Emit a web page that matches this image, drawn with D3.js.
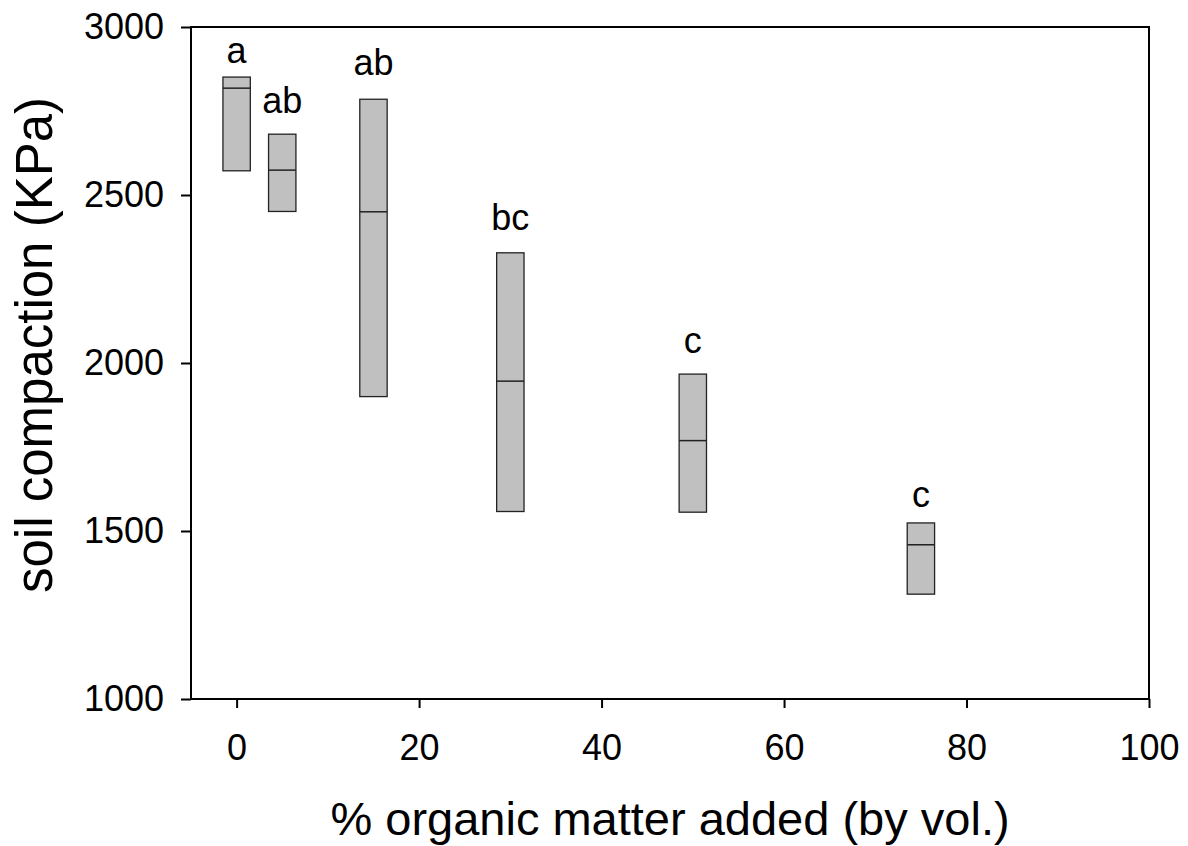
<!DOCTYPE html>
<html>
<head>
<meta charset="utf-8">
<script src="https://cdn.jsdelivr.net/npm/d3@7"></script>
<style>
  html, body { margin: 0; padding: 0; background: #fff; }
  svg { display: block; }
  text { font-family: "Liberation Sans", Arial, sans-serif; fill: #000; }
</style>
</head>
<body>
<svg id="chart" width="1188" height="846"></svg>
<script>
// ---- data ----
const omAdded   = [0, 5, 15, 30, 50, 75];           // % organic matter (x)
const boxTop    = [2851, 2681, 2785, 2328, 1967, 1524];
const boxMedian = [2818, 2574, 2450, 1946, 1769, 1459];
const boxBottom = [2572, 2451, 1900, 1558, 1556, 1312];
const letters   = ["a", "ab", "ab", "bc", "c", "c"];
const letterAt  = [2893, 2744, 2857, 2396, 2030, 1571]; // label baseline, data units
const xTicks    = [0, 20, 40, 60, 80, 100];
const yTicks    = [1000, 1500, 2000, 2500, 3000];
const boxWidth  = 3;  // in x units
const xTitle = "% organic matter added (by vol.)";
const yTitle = "soil compaction (KPa)";

// ---- layout ----
const margin = { left: 191, top: 27, right: 1188 - 1149, bottom: 846 - 699 };
const W = 1188 - margin.left - margin.right;
const H = 846 - margin.top - margin.bottom;

const svg = d3.select("#chart");
const g = svg.append("g").attr("transform", `translate(${margin.left},${margin.top})`);

const x = d3.scaleLinear().domain([-5, 100]).range([0, W]);
const y = d3.scaleLinear().domain([1000, 3000]).range([H, 0]);

const data = omAdded.map((v, i) => ({
  x: v, top: boxTop[i], med: boxMedian[i], bot: boxBottom[i],
  label: letters[i], ly: letterAt[i]
}));

// boxes
const bw = x(boxWidth) - x(0);
g.selectAll("rect.box").data(data).join("rect")
  .attr("class", "box")
  .attr("x", d => x(d.x) - bw / 2)
  .attr("y", d => y(d.top))
  .attr("width", bw)
  .attr("height", d => y(d.bot) - y(d.top))
  .attr("fill", "#c0c0c0")
  .attr("stroke", "#222")
  .attr("stroke-width", 1.3);

g.selectAll("line.med").data(data).join("line")
  .attr("class", "med")
  .attr("x1", d => x(d.x) - bw / 2)
  .attr("x2", d => x(d.x) + bw / 2)
  .attr("y1", d => y(d.med))
  .attr("y2", d => y(d.med))
  .attr("stroke", "#222")
  .attr("stroke-width", 1.5);

g.selectAll("text.letter").data(data).join("text")
  .attr("class", "letter")
  .attr("x", d => x(d.x))
  .attr("y", d => y(d.ly))
  .attr("text-anchor", "middle")
  .style("font-size", "36px")
  .text(d => d.label);

// axes
const xAxis = d3.axisBottom(x).tickValues(xTicks).tickFormat(d3.format("d"))
  .tickSize(9).tickPadding(26).tickSizeOuter(0);
const yAxis = d3.axisLeft(y).tickValues(yTicks).tickFormat(d3.format("d"))
  .tickSize(10).tickPadding(17).tickSizeOuter(0);

const gx = g.append("g").attr("transform", `translate(0,${H})`).call(xAxis);
const gy = g.append("g").call(yAxis);

[gx, gy].forEach(a => {
  a.select(".domain").remove();
  a.selectAll(".tick line").attr("stroke", "#000").attr("stroke-width", 2);
  a.selectAll(".tick text")
    .style("font-size", "36px")
    .style("font-family", '"Liberation Sans", Arial, sans-serif')
    .attr("fill", "#000");
});

// frame
g.append("rect")
  .attr("x", 0).attr("y", 0).attr("width", W).attr("height", H)
  .attr("fill", "none").attr("stroke", "#000").attr("stroke-width", 2);

// titles
svg.append("text")
  .attr("x", margin.left + W / 2)
  .attr("y", 835)
  .attr("text-anchor", "middle")
  .style("font-size", "47px")
  .text(xTitle);

svg.append("text")
  .attr("transform", `translate(52,${margin.top + H / 2 - 18}) rotate(-90)`)
  .attr("text-anchor", "middle")
  .style("font-size", "51px")
  .text(yTitle);
</script>
</body>
</html>
